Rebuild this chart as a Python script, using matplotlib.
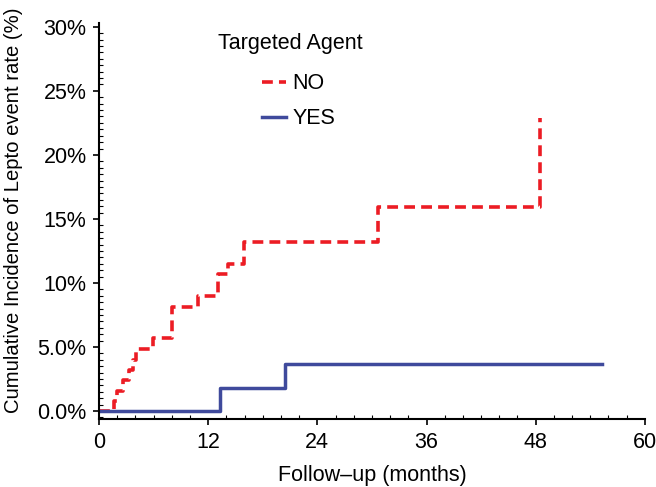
import matplotlib
matplotlib.use("Agg")
import matplotlib.pyplot as plt
from matplotlib.ticker import MultipleLocator, FixedLocator

plt.rcParams['font.family'] = ['Liberation Sans', 'DejaVu Sans']

# cumulative incidence (%)
no_months = [0, 1.6, 2.0, 2.6, 3.3, 3.7, 4.1, 5.9, 8.0, 10.9, 13.1, 14.2, 15.9, 30.7, 48.5]
no_rate = [0, 0.8, 1.6, 2.4, 3.2, 4.0, 4.84, 5.7, 8.1, 9.0, 10.7, 11.5, 13.2, 15.9, 22.9]
yes_months = [0, 13.3, 20.4, 55.3]
yes_rate = [0, 1.8, 3.67, 3.67]

x_ticks = [0, 12, 24, 36, 48, 60]
y_ticks = [0, 5, 10, 15, 20, 25, 30]
y_labels = ["0.0%", "5.0%", "10%", "15%", "20%", "25%", "30%"]

red = "#ec1c24"
blue = "#3f4a9c"

fig = plt.figure(figsize=(6.56, 4.87), dpi=100)
ax = fig.add_axes([0.151, 0.1396, 0.832, 0.8132])

ax.step(no_months, no_rate, where="post", color=red, lw=2.6,
        dashes=(3.0, 1.7), label="NO")
ax.step(yes_months, yes_rate, where="post", color=blue, lw=2.5, label="YES")

ax.set_xlim(0, 60)
ax.set_ylim(-0.62, 30.3)
ax.spines["top"].set_visible(False)
ax.spines["right"].set_visible(False)
ax.spines["left"].set_linewidth(1.5)
ax.spines["bottom"].set_linewidth(1.5)

ax.xaxis.set_major_locator(FixedLocator(x_ticks))
ax.xaxis.set_minor_locator(MultipleLocator(2))
ax.yaxis.set_major_locator(FixedLocator(y_ticks))
ax.yaxis.set_minor_locator(MultipleLocator(0.5))
ax.set_yticklabels(y_labels)

ax.tick_params(which="major", direction="out", length=4, width=1.2,
               labelsize=15.5, colors="black", pad=5)
ax.tick_params(which="minor", direction="in", length=3, width=0.8)

ax.set_xlabel("Follow\u2013up (months)", fontsize=15.5)
ax.xaxis.set_label_coords(0.5, -(475 - 419) / 396, transform=ax.transAxes)
ax.xaxis.label.set_va("center")
ax.set_ylabel("Cumulative Incidence of Lepto event rate (%)", fontsize=14.6)
ax.yaxis.set_label_coords((13 - 99) / 546, (419 - 210) / 396)
ax.yaxis.label.set_va("center")

fig.text(0.442, 1 - 44 / 487, "Targeted Agent", fontsize=15.5, ha="center", va="center")
ax.legend(loc="upper left", bbox_to_anchor=(247 / 656, 1 - 58 / 487),
          bbox_transform=fig.transFigure, frameon=False, fontsize=15.5,
          handlelength=1.1, handletextpad=0.3, labelspacing=0.65,
          borderpad=0.2)

fig.savefig("out.png", dpi=100)
